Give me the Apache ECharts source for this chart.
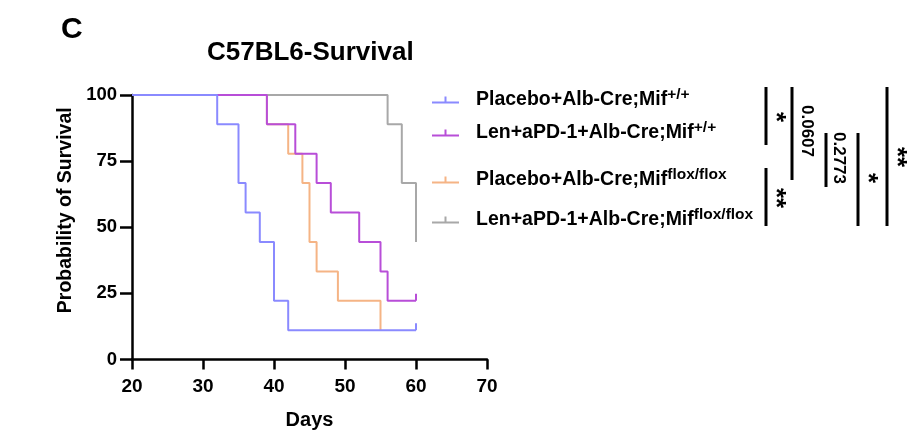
<!DOCTYPE html>
<html>
<head>
<meta charset="utf-8">
<script src="https://cdn.jsdelivr.net/npm/echarts@6/dist/echarts.min.js"></script>
<style>
html,body{margin:0;padding:0;background:#fff;}
#chart{width:915px;height:440px;}
</style>
</head>
<body>
<div id="chart"></div>
<script>
// ---- data ----
const seriesNames = ['Placebo+Alb-Cre;Mif', 'Len+aPD-1+Alb-Cre;Mif', 'Placebo+Alb-Cre;Mif', 'Len+aPD-1+Alb-Cre;Mif'];
const seriesSup = ['+/+', '+/+', 'flox/flox', 'flox/flox'];
const blueDays = [20, 32, 35, 36, 38, 40, 42, 60];
const blueSurv = [100, 88.9, 66.7, 55.6, 44.4, 22.2, 11.1, 11.1];
const purpleDays = [20, 39, 43, 46, 48, 52, 55, 56, 60];
const purpleSurv = [100, 88.9, 77.8, 66.7, 55.6, 44.4, 33.3, 22.2, 22.2];
const orangeDays = [20, 39, 42, 44, 45, 46, 49, 55];
const orangeSurv = [100, 88.9, 77.8, 66.7, 44.4, 33.3, 22.2, 11.1];
const grayDays = [20, 56, 58, 60];
const graySurv = [100, 88.9, 66.7, 44.4];
const xTicks = [20, 30, 40, 50, 60, 70];
const yTicks = [0, 25, 50, 75, 100];
const pValueLabels = ['*', '0.0607', '0.2773', '*', '**', '**'];

// ---- styling ----
const FONT = '"Liberation Sans", Arial, sans-serif';
const colors = ['#8a8aff', '#b84ed8', '#f5b485', '#a8a8a8'];
const fullNames = seriesNames.map((n, i) => n + seriesSup[i]);

function pairs(xs, ys, censored) {
  return xs.map((x, i) => {
    const item = { value: [x, ys[i]] };
    if (censored && i === xs.length - 1) {
      item.symbol = 'rect';
      item.symbolSize = [2, 7];
      item.symbolOffset = [0, '-50%'];
    }
    return item;
  });
}

const seriesData = [
  pairs(blueDays, blueSurv, true),
  pairs(purpleDays, purpleSurv, true),
  pairs(orangeDays, orangeSurv, false),
  pairs(grayDays, graySurv, false)
];

function mkSeries(i, z) {
  return {
    name: fullNames[i],
    type: 'line',
    step: 'end',
    data: seriesData[i],
    symbol: 'none',
    showSymbol: true,
    color: colors[i],
    itemStyle: { color: colors[i] },
    lineStyle: { color: colors[i], width: 2 },
    z: z,
    animation: false
  };
}

const legendTops = [87, 120, 167, 207];
const legends = fullNames.map((n, i) => ({
  data: [n],
  left: 432,
  top: legendTops[i],
  orient: 'vertical',
  itemWidth: 27,
  itemHeight: 7,
  icon: 'path://M0,5 L27,5 L27,7 L0,7 Z M12.5,0 L14.5,0 L14.5,5 L12.5,5 Z',
  selectedMode: false,
  padding: 0,
  formatter: function (name) {
    const idx = fullNames.indexOf(name);
    return '{m|' + seriesNames[idx] + '}{s|' + seriesSup[idx] + '}';
  },
  textStyle: {
    padding: [0, 0, 0, 12],
    rich: {
      m: { fontSize: 19.5, fontWeight: 'bold', fontFamily: FONT, color: '#000', lineHeight: 26 },
      s: { fontSize: 15.5, fontWeight: 'bold', fontFamily: FONT, color: '#000', lineHeight: 15, verticalAlign: 'top' }
    }
  }
}));

// significance brackets (annotation, in pixel space)
const bars = [
  [766, 87, 145], [792, 87, 180], [826, 133, 187],
  [858, 133, 226], [887, 87, 226], [766, 168, 226]
];
const barTexts = [
  [775, 117, 26], [807, 131, 17], [839, 158, 17],
  [867, 178, 26], [896, 157, 26], [775, 198, 26]
];
const graphics = [];
bars.forEach(b => graphics.push({
  type: 'line', shape: { x1: b[0], y1: b[1], x2: b[0], y2: b[2] },
  style: { stroke: '#000', lineWidth: 3 }, silent: true
}));
barTexts.forEach((t, i) => graphics.push({
  type: 'text', x: t[0], y: t[1], rotation: -Math.PI / 2,
  style: {
    text: pValueLabels[i], fill: '#000', font: 'bold ' + t[2] + 'px ' + FONT,
    textAlign: 'center', textVerticalAlign: 'middle'
  }, silent: true
}));

const option = {
  backgroundColor: '#fff',
  animation: false,
  title: [
    { text: 'C', left: 61, top: 15, padding: 0, textStyle: { fontSize: 30, fontWeight: 'bold', fontFamily: FONT, color: '#000' } },
    { text: 'C57BL6-Survival', left: 207, top: 40, padding: 0, textStyle: { fontSize: 26, fontWeight: 'bold', fontFamily: FONT, color: '#000' } }
  ],
  legend: legends,
  grid: { left: 132, top: 95, width: 355, height: 264.5, containLabel: false },
  xAxis: {
    type: 'value', min: xTicks[0], max: xTicks[xTicks.length - 1], interval: 10,
    name: 'Days', nameLocation: 'middle', nameGap: 51,
    nameTextStyle: { fontSize: 20, fontWeight: 'bold', fontFamily: FONT, color: '#000' },
    axisLine: { show: true, lineStyle: { color: '#000', width: 2.5 } },
    axisTick: { show: true, inside: false, length: 10, lineStyle: { color: '#000', width: 2.5 } },
    axisLabel: { fontSize: 19, fontWeight: 'bold', fontFamily: FONT, color: '#000', margin: 18 },
    splitLine: { show: false }
  },
  yAxis: {
    type: 'value', min: yTicks[0], max: yTicks[yTicks.length - 1], interval: 25,
    name: 'Probability of Survival', nameLocation: 'middle', nameGap: 56,
    nameTextStyle: { fontSize: 19.5, fontWeight: 'bold', fontFamily: FONT, color: '#000', padding: [0, 0, 0, 34] },
    axisLine: { show: true, lineStyle: { color: '#000', width: 2.5 } },
    axisTick: { show: true, inside: false, length: 12, lineStyle: { color: '#000', width: 2.5 } },
    axisLabel: { fontSize: 18.5, fontWeight: 'bold', fontFamily: FONT, color: '#000', margin: 15 },
    splitLine: { show: false }
  },
  series: [mkSeries(2, 2), mkSeries(3, 3), mkSeries(1, 4), mkSeries(0, 5)],
  graphic: graphics
};

const chart = echarts.init(document.getElementById('chart'), null, { renderer: 'canvas' });
chart.setOption(option);
</script>
</body>
</html>
